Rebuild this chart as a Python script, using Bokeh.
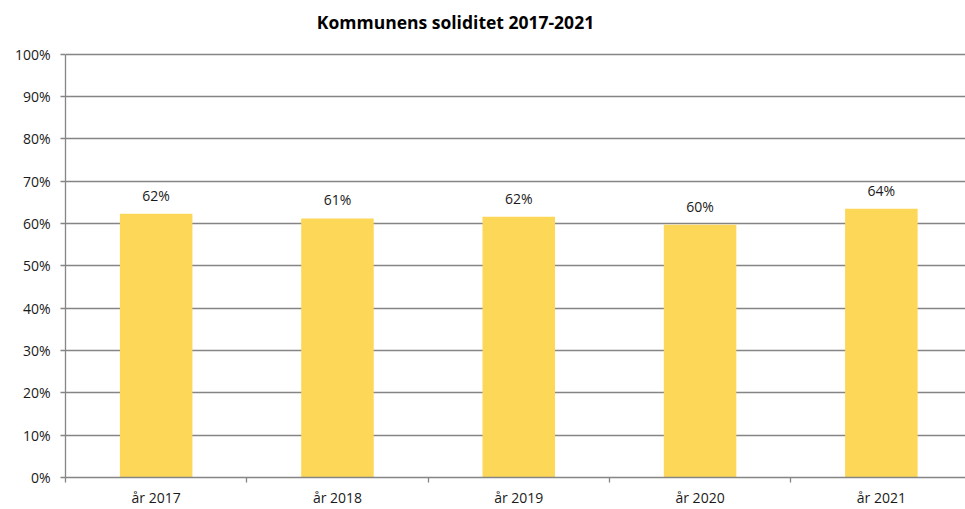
from bokeh.plotting import figure
from bokeh.models import ColumnDataSource, FixedTicker, Range1d, Label
from bokeh.core.properties import value
from bokeh.embed import file_html
from bokeh.resources import INLINE

categories = ["år 2017", "år 2018", "år 2019", "år 2020", "år 2021"]
soliditet = [0.623, 0.612, 0.616, 0.597, 0.635]
y_ticks = [0.0, 0.1, 0.2, 0.3, 0.4, 0.5, 0.6, 0.7, 0.8, 0.9, 1.0]
y_tick_labels = ["0%", "10%", "20%", "30%", "40%", "50%", "60%", "70%", "80%", "90%", "100%"]
title_text = "Kommunens soliditet 2017-2021"

FONT = "Open Sans"
GRID = "#858585"
TEXT = "#1a1a1a"

xs = [i + 0.5 for i in range(len(categories))]
labels = [f"{round(v * 100)}%" for v in soliditet]
src = ColumnDataSource(dict(x=xs, y=soliditet, label=labels))

# extra headroom above 100% holds the title (frame top is the canvas top)
p = figure(width=965, height=509, output_backend="svg", toolbar_location=None,
           x_range=Range1d(0, 4.964), y_range=Range1d(0, 1.127),
           min_border_left=65, min_border_right=0, min_border_top=0, min_border_bottom=30)
p.outline_line_color = None
p.background_fill_color = "white"
p.border_fill_color = "white"

title = Label(x=2.151, y=1.0, y_offset=32, text=title_text,
              text_align="center", text_baseline="middle", text_font=FONT,
              text_font_size="17.5px", text_font_style="bold", text_color="#000000")
p.add_layout(title)

p.vbar(x="x", top="y", width=0.4, bottom=0, source=src,
       fill_color="#FDD757", line_color=None)
p.text(x="x", y="y", text="label", source=src, text_align="center",
       text_baseline="bottom", y_offset=-9, text_font=value(FONT),
       text_font_size="14px", text_color=TEXT)

# y axis
p.yaxis.ticker = FixedTicker(ticks=y_ticks)
p.yaxis.bounds = (0, 1)
p.yaxis.major_label_overrides = {t_: l for t_, l in zip(y_ticks, y_tick_labels)}
p.yaxis.major_tick_out = 5
p.yaxis.major_tick_in = 0
p.yaxis.minor_tick_out = 0
p.yaxis.minor_tick_in = 0
p.yaxis.axis_line_color = GRID
p.yaxis.axis_line_width = 1.3
p.yaxis.major_tick_line_color = GRID
p.yaxis.major_tick_line_width = 1.3
p.yaxis.major_label_text_font = FONT
p.yaxis.major_label_text_font_size = "14px"
p.yaxis.major_label_text_color = TEXT
p.yaxis.major_label_standoff = 10

# x axis
p.xaxis.ticker = FixedTicker(ticks=xs, minor_ticks=list(range(len(categories) + 1)))
p.xaxis.major_label_overrides = {x: c for x, c in zip(xs, categories)}
p.xaxis.major_tick_out = 0
p.xaxis.major_tick_in = 0
p.xaxis.minor_tick_out = 5
p.xaxis.minor_tick_in = 0
p.xaxis.axis_line_color = GRID
p.xaxis.axis_line_width = 1.3
p.xaxis.minor_tick_line_color = GRID
p.xaxis.minor_tick_line_width = 1.3
p.xaxis.major_label_text_font = FONT
p.xaxis.major_label_text_font_size = "14px"
p.xaxis.major_label_text_color = TEXT
p.xaxis.major_label_standoff = 5

p.xgrid.grid_line_color = None
p.ygrid.ticker = FixedTicker(ticks=y_ticks)
p.ygrid.grid_line_color = GRID
p.ygrid.grid_line_width = 1.3

open("out.html", "w").write(file_html(p, INLINE))
